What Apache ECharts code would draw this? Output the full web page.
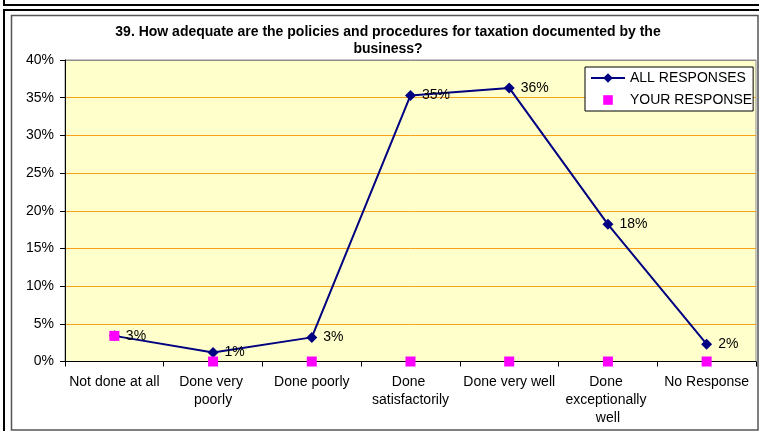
<!DOCTYPE html>
<html>
<head>
<meta charset="utf-8">
<script src="https://cdn.jsdelivr.net/npm/echarts@6/dist/echarts.min.js"></script>
<style>
  html, body { margin: 0; padding: 0; background: #fff; }
  #chart { width: 759px; height: 431px; }
</style>
</head>
<body>
<div id="chart"></div>
<script>
// Survey question 39: share of answers per rating (percent)
const titleText = '39. How adequate are the policies and procedures for taxation documented by the\nbusiness?';
const categories = [
  'Not done at all',
  'Done very poorly',
  'Done poorly',
  'Done satisfactorily',
  'Done very well',
  'Done exceptionally well',
  'No Response'
];
const allResponses = [3.4, 1.2, 3.2, 35.3, 36.3, 18.2, 2.3];
const yourResponse = [3.4, 0, 0, 0, 0, 0, 0];
const seriesNames = ['ALL RESPONSES', 'YOUR RESPONSE'];
const yTicks = { min: 0, max: 40, step: 5 };

const FONT = '"Liberation Sans", Arial, sans-serif';
const GRID_ORANGE = '#F7A21B';
const FRAME_GREY = '#8c8c8c';

// orange gridlines, except the top one which sits on the plot frame
const tickCount = (yTicks.max - yTicks.min) / yTicks.step + 1;
const splitColors = [];
for (let i = 0; i < tickCount; i++) splitColors.push(i === tickCount - 1 ? FRAME_GREY : GRID_ORANGE);

const chart = echarts.init(document.getElementById('chart'), null, { renderer: 'canvas' });

chart.setOption({
  backgroundColor: '#ffffff',
  animation: false,
  textStyle: { fontFamily: FONT },
  title: {
    text: titleText,
    left: 388,
    top: 24,
    padding: 0,
    textAlign: 'center',
    textStyle: { fontFamily: FONT, fontSize: 14, fontWeight: 'bold', color: '#000', lineHeight: 17 }
  },
  legend: {
    orient: 'vertical',
    left: 585,
    top: 67,
    padding: [4, 1, 4, 5],
    itemGap: 8,
    itemWidth: 34,
    itemHeight: 12,
    backgroundColor: '#ffffff',
    borderColor: '#000000',
    borderWidth: 1,
    borderRadius: 0,
    textStyle: { fontFamily: FONT, fontSize: 14, color: '#000' },
    data: seriesNames
  },
  grid: {
    left: 65,
    right: 3,
    top: 60,
    bottom: 69.5,
    show: true,
    backgroundColor: '#FFFFCC',
    borderColor: FRAME_GREY,
    borderWidth: 1
  },
  xAxis: {
    type: 'category',
    data: categories,
    boundaryGap: true,
    axisLine: { show: true, lineStyle: { color: '#000', width: 1 } },
    axisTick: { show: true, length: 5, lineStyle: { color: '#000' } },
    axisLabel: {
      interval: 0,
      margin: 12,
      fontFamily: FONT,
      fontSize: 14,
      color: '#000',
      lineHeight: 18,
      width: 96,
      overflow: 'break'
    },
    splitLine: { show: false }
  },
  yAxis: {
    type: 'value',
    min: yTicks.min,
    max: yTicks.max,
    interval: yTicks.step,
    axisLine: { show: true, lineStyle: { color: '#000', width: 1 } },
    axisTick: { show: true, length: 5, lineStyle: { color: '#000' } },
    axisLabel: {
      formatter: '{value}%',
      margin: 11,
      fontFamily: FONT,
      fontSize: 14,
      color: '#000'
    },
    splitLine: { show: true, lineStyle: { color: splitColors, width: 1 } }
  },
  series: [
    {
      name: seriesNames[0],
      type: 'line',
      data: allResponses,
      clip: false,
      z: 3,
      symbol: 'diamond',
      symbolSize: 11,
      lineStyle: { color: '#000080', width: 2 },
      itemStyle: { color: '#000080' },
      label: {
        show: true,
        position: 'right',
        distance: 6,
        fontFamily: FONT,
        fontSize: 14,
        color: '#000',
        formatter: p => Math.round(p.value) + '%'
      }
    },
    {
      name: seriesNames[1],
      type: 'line',
      data: yourResponse,
      clip: false,
      z: 4,
      symbol: 'rect',
      symbolSize: 10,
      lineStyle: { width: 0, opacity: 0 },
      itemStyle: { color: '#FF00FF' },
      label: { show: false }
    }
  ],
  graphic: [
    // border of the box above
    { type: 'line', silent: true, shape: { x1: 4, y1: 0, x2: 4, y2: 6 }, style: { stroke: '#000', lineWidth: 2 } },
    { type: 'line', silent: true, shape: { x1: 3, y1: 5, x2: 759, y2: 5 }, style: { stroke: '#000', lineWidth: 2 } },
    // outer frame of this box
    { type: 'line', silent: true, shape: { x1: 3, y1: 10, x2: 759, y2: 10 }, style: { stroke: '#000', lineWidth: 2 } },
    { type: 'line', silent: true, shape: { x1: 4, y1: 9, x2: 4, y2: 431 }, style: { stroke: '#000', lineWidth: 2 } },
    // chart area frame
    { type: 'rect', silent: true, shape: { x: 11.5, y: 15.5, width: 746.5, height: 414.5 }, style: { fill: null, stroke: '#555', lineWidth: 1.5 } }
  ]
});
</script>
</body>
</html>
